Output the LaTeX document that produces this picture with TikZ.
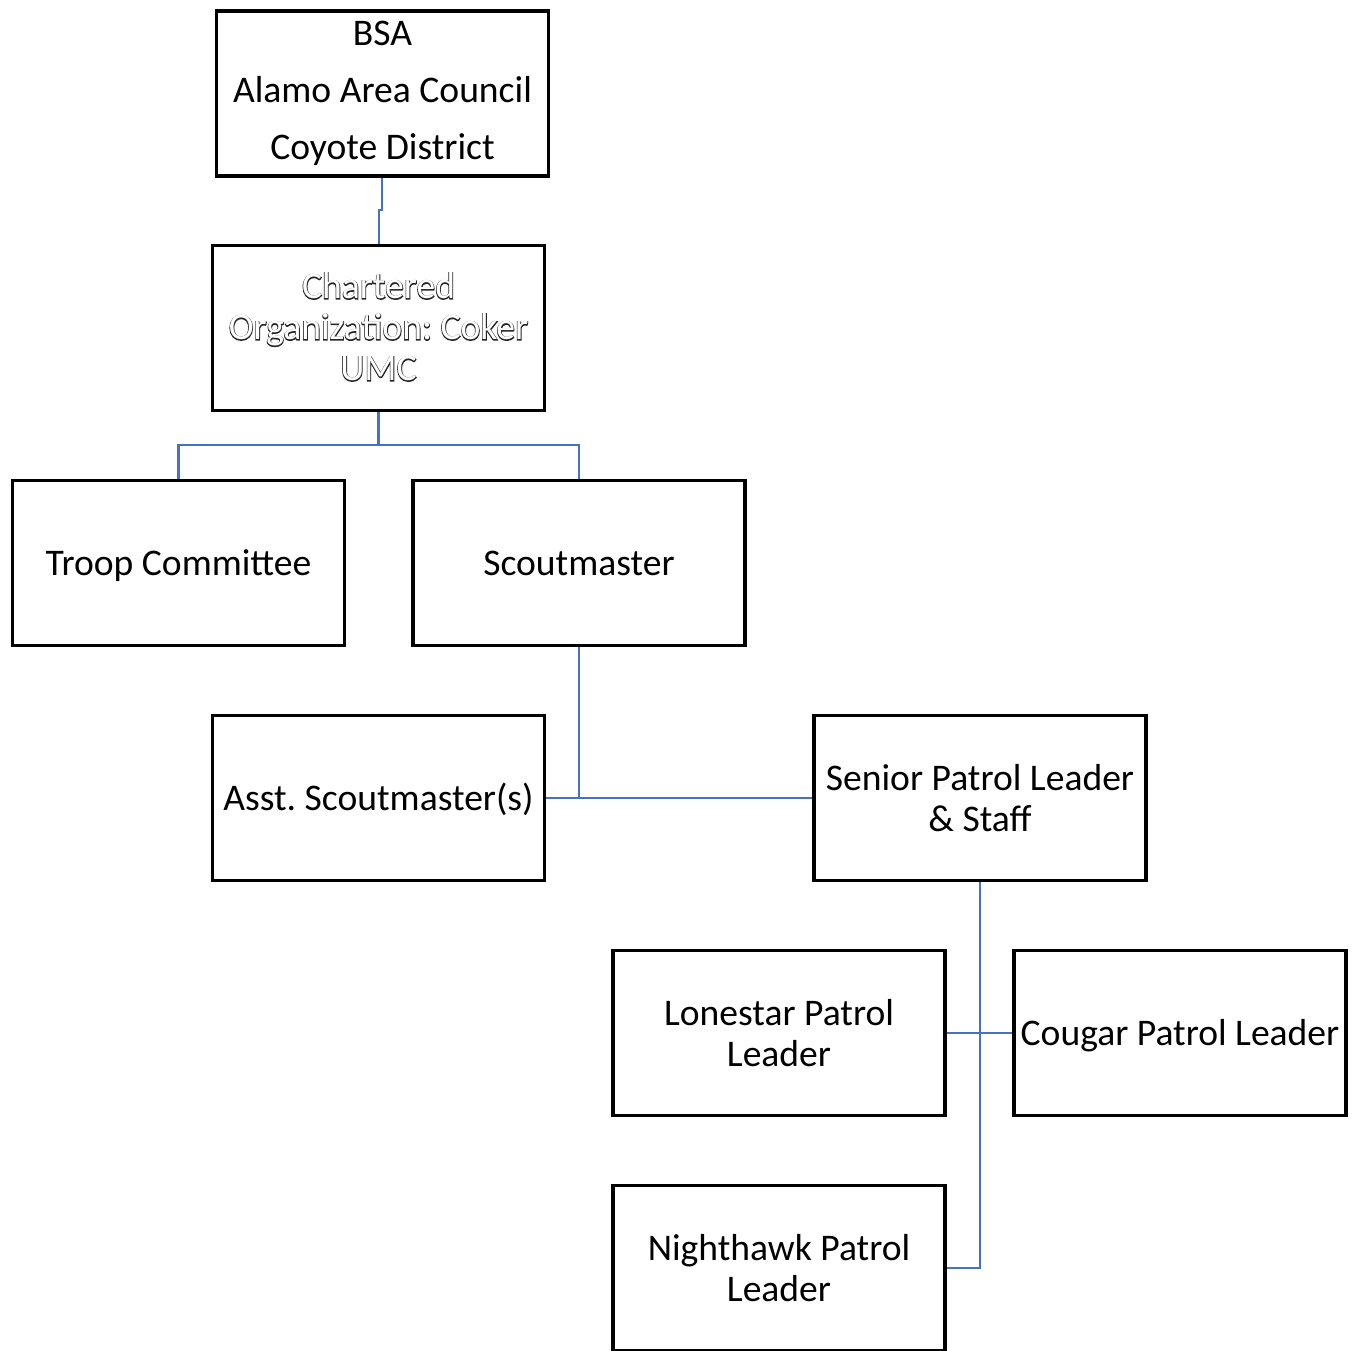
\documentclass[tikz,border=0pt]{standalone}
\usepackage{fontspec}
\setmainfont{Carlito}
\newfontfamily\hollowbold[FakeBold=4]{Carlito}
\frenchspacing
\begin{document}
\begin{tikzpicture}[x=0.75pt,y=-0.75pt,
  txt/.style={align=center,font=\fontsize{28.2}{30.75}\selectfont},
  box/.style={txt,draw=black,line width=2.7pt,minimum width=249pt,minimum height=124pt,
    inner sep=2pt},
  one/.style={text height=22pt,text depth=3pt},
  link/.style={draw={rgb,255:red,68;green,114;blue,196},line width=1.8pt}]
\useasboundingbox (0,0) rectangle (1356,1350);
\node[box,font=\fontsize{28.2}{42.75}\selectfont] (bsa) at (382.5,93.5) {BSA\\Alamo Area Council\\Coyote District};
\node[box] (co) at (378.5,328) {};
\node[txt,text=black!85,font=\fontsize{28.2}{30.75}\hollowbold] (cob) at (378.5,327) {Chartered\\Organization: Coker\\UMC};
\node[txt,text=white] (cow) at (cob.center) {Chartered\\Organization: Coker\\UMC};
\node[box,one] (tc) at (178.5,563) {Troop Committee};
\node[box,one] (sm) at (579,563) {Scoutmaster};
\node[box,one] (asm) at (378.5,798) {Asst. Scoutmaster(s)};
\node[box] (spl) at (980,798) {Senior Patrol Leader\\\& Staff};
\node[box] (lon) at (779,1033) {Lonestar Patrol\\Leader};
\node[box,one] (cou) at (1180,1033) {Cougar Patrol Leader};
\node[box] (nig) at (779,1268) {Nighthawk Patrol\\Leader};
\coordinate (j1) at (382,210);
\coordinate (j2) at (379,210);
\coordinate (h1) at (378.5,445);
\coordinate (v1) at (579,798);
\coordinate (v3) at (980,1268);
\draw[link] (bsa.south -| j1) -- (j1) -- (j2) -- (co.north -| j2);
\draw[link] (co.south) -- (h1);
\draw[link] (tc.north) |- (h1) -| (sm.north);
\draw[link] (sm.south) -- (v1);
\draw[link] (asm.east) -- (spl.west);
\draw[link] (spl.south) -- (v3) -- (nig.east);
\draw[link] (lon.east) -- (cou.west);
\end{tikzpicture}
\end{document}
